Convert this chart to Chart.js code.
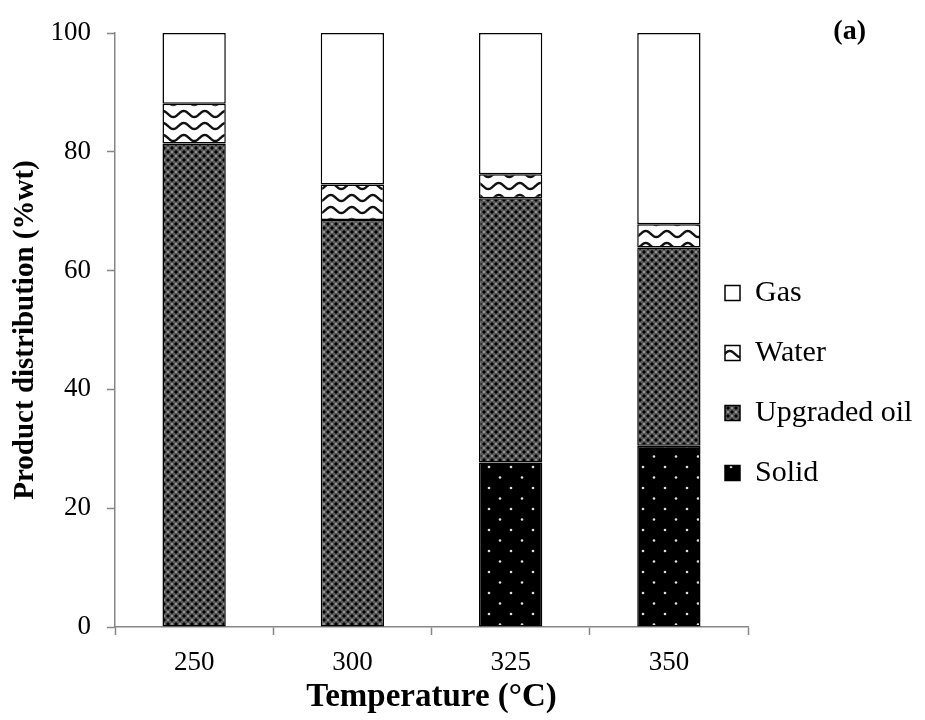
<!DOCTYPE html>
<html>
<head>
<meta charset="utf-8">
<title>Product distribution</title>
<script src="https://cdn.jsdelivr.net/npm/chart.js@4.4.1/dist/chart.umd.min.js"></script>
<style>
  body { margin: 0; background: #ffffff; }
  #wrap { width: 925px; height: 720px; }
</style>
</head>
<body>
<div id="wrap"><canvas id="myChart" width="925" height="720"></canvas></div>
<script>
// values (%wt)
const temperatures = ['250', '300', '325', '350'];
const solid = [0, 0, 27.7, 30.5];
const upgradedOil = [81.4, 68.5, 44.5, 33.4];
const water = [6.7, 6.0, 4.0, 3.9];
const gas = [11.9, 25.5, 23.8, 32.2];
const yTicks = [0, 20, 40, 60, 80, 100];

const serif = '"Liberation Serif", "Times New Roman", serif';
const axisGray = '#868686';

function makeTile(w, h, paint) {
  const c = document.createElement('canvas');
  c.width = w;
  c.height = h;
  const ctx = c.getContext('2d');
  paint(ctx, w, h);
  return document.getElementById('myChart').getContext('2d').createPattern(c, 'repeat');
}

// dark lattice used for the upgraded oil
function oilPattern() {
  return makeTile(8, 8, (ctx) => {
    ctx.fillStyle = '#5a5a5a';
    ctx.fillRect(0, 0, 8, 8);
    ctx.fillStyle = '#000000';
    [[0, 0], [4, 4], [8, 0], [0, 8], [8, 8]].forEach(([x, y]) => {
      ctx.fillRect(x - 0.5, y - 2, 1, 4);
      ctx.fillRect(x - 2, y - 0.5, 4, 1);
      ctx.fillRect(x - 1, y - 1, 2, 2);
    });
    ctx.fillStyle = '#f0f0f0';
    ctx.fillRect(3.4, -0.6, 1.2, 1.2);
    ctx.fillRect(3.4, 7.4, 1.2, 1.2);
    ctx.fillRect(-0.6, 3.4, 1.2, 1.2);
    ctx.fillRect(7.4, 3.4, 1.2, 1.2);
  });
}

// wavy lines for water
function waterPattern() {
  return makeTile(21, 12, (ctx, w, h) => {
    ctx.fillStyle = '#ffffff';
    ctx.fillRect(0, 0, w, h);
    ctx.strokeStyle = '#111111';
    ctx.lineWidth = 2.4;
    ctx.beginPath();
    for (let x = -1; x <= w + 1; x += 0.5) {
      const y = 6 + 3 * Math.sin((2 * Math.PI * x) / w);
      if (x === -1) ctx.moveTo(x, y); else ctx.lineTo(x, y);
    }
    ctx.stroke();
  });
}

// black with small white dots for the solid
function solidPattern() {
  return makeTile(22, 21, (ctx, w, h) => {
    ctx.fillStyle = '#000000';
    ctx.fillRect(0, 0, w, h);
    ctx.fillStyle = '#e0e0e0';
    [[5, 5], [16, 15.5]].forEach(([x, y]) => {
      ctx.beginPath();
      ctx.arc(x, y, 1.3, 0, Math.PI * 2);
      ctx.fill();
    });
  });
}

const legendFont = 30;
const legendPad = 30;
const legendBox = 15;
const plotRight = 748;

// how wide Chart.js will make the legend, so the plot can still end at plotRight
function legendWidth() {
  const ctx = document.createElement('canvas').getContext('2d');
  ctx.font = legendFont + 'px ' + serif;
  const widest = Math.max(...['Gas', 'Water', 'Upgraded oil', 'Solid'].map((t) => ctx.measureText(t).width));
  return legendPad + legendBox + legendFont / 2 + widest + 10;
}

// puts the legend where the original has it (next to the plot, lower half)
const legendPlace = {
  id: 'legendPlace',
  afterLayout(chart) {
    const lg = chart.legend;
    if (!lg) return;
    const w = lg.width;
    const h = lg.height;
    lg.left = 725 - legendPad;
    lg.right = lg.left + w;
    lg.top = 293 - legendPad - legendFont / 2;
    lg.bottom = lg.top + h;
  }
};

const panelLabel = {
  id: 'panelLabel',
  afterDraw(chart) {
    const ctx = chart.ctx;
    ctx.save();
    ctx.font = 'bold 28px ' + serif;
    ctx.fillStyle = '#000000';
    ctx.textAlign = 'right';
    ctx.textBaseline = 'middle';
    ctx.fillText('(a)', 866, 32);
    ctx.restore();
  }
};

function mainEvent() {
  const target = document.querySelector('#myChart');
  const padRight = (925 - plotRight) - legendWidth();
  const common = {
    borderColor: '#000000',
    borderWidth: 1.5,
    borderSkipped: false,
    categoryPercentage: 0.8,
    barPercentage: 0.5
  };

  const chart = new Chart(target, {
    type: 'bar',
    data: {
      labels: temperatures,
      datasets: [
        { label: 'Solid', data: solid, backgroundColor: solidPattern(), ...common },
        { label: 'Upgraded oil', data: upgradedOil, backgroundColor: oilPattern(), ...common },
        { label: 'Water', data: water, backgroundColor: waterPattern(), ...common },
        { label: 'Gas', data: gas, backgroundColor: '#ffffff', ...common }
      ]
    },
    options: {
      responsive: false,
      animation: false,
      layout: { padding: { top: 33, right: padRight, bottom: 0, left: 0 } },
      plugins: {
        tooltip: { enabled: false },
        legend: {
          position: 'right',
          align: 'start',
          reverse: true,
          labels: {
            boxWidth: legendBox,
            boxHeight: legendBox,
            padding: legendPad,
            color: '#000000',
            font: { family: serif, size: legendFont }
          }
        }
      },
      scales: {
        x: {
          stacked: true,
          afterFit(scale) { scale.height = 93; },
          grid: {
            display: true,
            drawOnChartArea: false,
            drawTicks: true,
            tickLength: 8,
            tickWidth: 1.5,
            color: axisGray
          },
          border: { display: true, color: axisGray, width: 1.5 },
          ticks: {
            color: '#000000',
            padding: 12,
            font: { family: serif, size: 27 }
          },
          title: {
            display: true,
            text: 'Temperature (°C)',
            color: '#000000',
            padding: { top: 0, bottom: 3 },
            font: { family: serif, size: 33, weight: 'bold' }
          }
        },
        y: {
          stacked: true,
          min: 0,
          max: 100,
          afterFit(scale) { scale.width = 115; },
          afterBuildTicks(scale) {
            scale.ticks = yTicks.map((v) => ({ value: v }));
          },
          grid: {
            display: true,
            drawOnChartArea: false,
            drawTicks: true,
            tickLength: 8,
            tickWidth: 1.5,
            color: axisGray
          },
          border: { display: true, color: axisGray, width: 1.5 },
          ticks: {
            color: '#000000',
            padding: 16,
            font: { family: serif, size: 27 }
          },
          title: {
            display: true,
            text: 'Product distribution (%wt)',
            color: '#000000',
            padding: { top: 8, bottom: 0 },
            font: { family: serif, size: 29, weight: 'bold' }
          }
        }
      }
    },
    plugins: [legendPlace, panelLabel]
  });
  return chart;
}

document.addEventListener('DOMContentLoaded', () => mainEvent());
</script>
</body>
</html>
